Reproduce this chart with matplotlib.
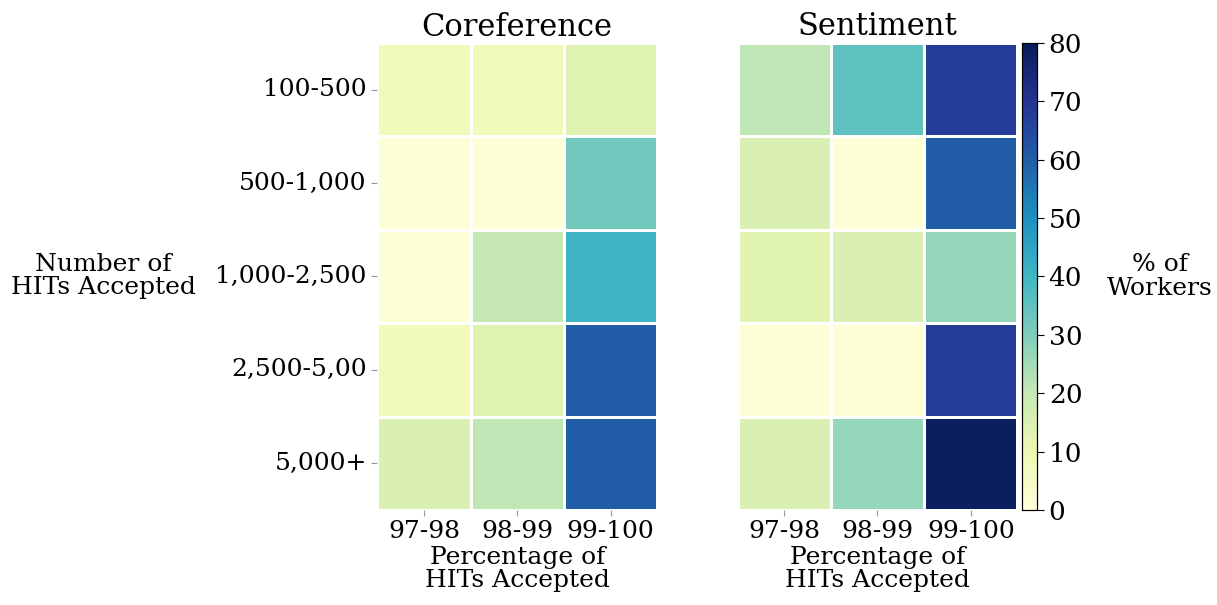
import numpy as np
import matplotlib
matplotlib.use("Agg")
import matplotlib.pyplot as plt
import seaborn as sns

plt.rcParams['font.family'] = ['DejaVu Serif']

rows = ['100-500', '500-1,000', '1,000-2,500', '2,500-5,00', '5,000+']
cols = ['97-98', '98-99', '99-100']

coref = [[8, 8, 14],
         [1, 1, 32],
         [1, 20, 40],
         [8, 14, 60],
         [15, 21, 60]]

sentiment = [[21, 35, 68],
             [15, 1, 60],
             [13, 15, 27],
             [1, 1, 68],
             [15, 27, 79]]

fig = plt.figure(figsize=(12.17, 6.05), dpi=100)
ax1 = fig.add_axes([0.310, 0.157, 0.230, 0.772])
ax2 = fig.add_axes([0.606, 0.157, 0.230, 0.772])
cax = fig.add_axes([0.840, 0.157, 0.012, 0.772])

common = dict(cmap='YlGnBu', vmin=0, vmax=80, linewidths=2, linecolor='white')
sns.heatmap(np.array(coref), ax=ax1, cbar=False, xticklabels=cols, yticklabels=rows, **common)
sns.heatmap(np.array(sentiment), ax=ax2, cbar_ax=cax, xticklabels=cols, yticklabels=False, **common)

ax1.set_title('Coreference', fontsize=22, pad=4)
ax2.set_title('Sentiment', fontsize=22, pad=6)
for ax in (ax1, ax2):
    ax.set_xlabel('Percentage of\nHITs Accepted', fontsize=18, labelpad=2, linespacing=1.0)
    ax.tick_params(axis='x', labelsize=18, rotation=0, length=4, color='#999999')
    ax.tick_params(axis='y', labelsize=18, rotation=0, length=4, color='#999999')
ax2.tick_params(axis='y', left=False)

ax1.set_ylabel('Number of\nHITs Accepted', fontsize=18, rotation=0, linespacing=1.0,
               ha='center', va='center', labelpad=0)
ax1.yaxis.set_label_coords(-0.98, 0.5)

cax.tick_params(labelsize=19, length=5)
cax.set_yticks([0, 10, 20, 30, 40, 50, 60, 70, 80])
for s in cax.spines.values():
    s.set_visible(True)
    s.set_linewidth(0.8)
cax.set_ylabel('% of\nWorkers', fontsize=18, rotation=0, ha='center', va='center', linespacing=1.1)
cax.yaxis.set_label_coords(9.4, 0.5)

fig.savefig('out.png', dpi=100)
